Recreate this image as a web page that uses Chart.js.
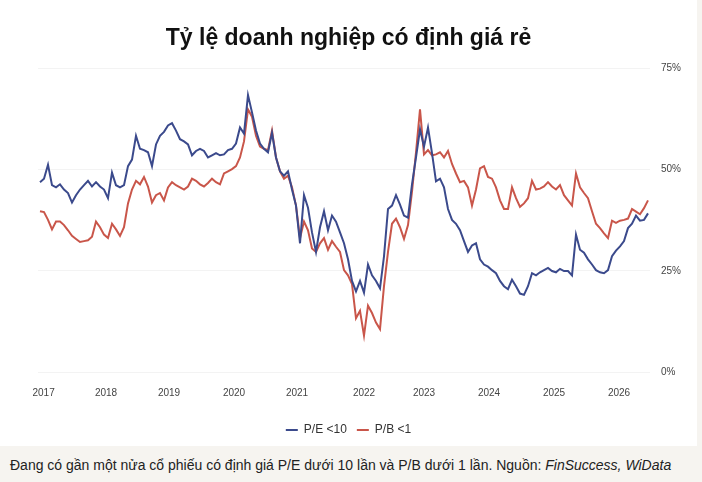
<!DOCTYPE html>
<html lang="vi">
<head>
<meta charset="utf-8">
<script src="https://cdn.jsdelivr.net/npm/chart.js@4.4.1/dist/chart.umd.min.js"></script>
<style>
  body { margin: 0; background: #f6f4f0; font-family: "Liberation Sans", Arial, sans-serif; }
  #panel { position: absolute; left: 0; top: 0; width: 697px; height: 446px; background: #fff; }
  #caption { position: absolute; left: 10px; top: 457px; font-size: 14px; color: #222; white-space: nowrap; }
</style>
</head>
<body>
<div id="panel"><canvas id="chart" width="697" height="446"></canvas></div>
<div id="caption">Đang có gần một nửa cổ phiếu có định giá P/E dưới 10 lần và P/B dưới 1 lần. Nguồn: <i>FinSuccess, WiData</i></div>
<script>
// weekly readings, % of companies
const peValues = [
  43.8, 44.6, 47.8, 43.1, 42.6, 43.3, 42.1, 41.3, 39.1, 40.8,
  42.1, 43.1, 44.1, 42.8, 43.8, 42.8, 42.1, 40.1, 46.0, 43.1,
  42.6, 43.1, 47.5, 49.0, 54.5, 51.5, 51.2, 50.7, 47.5, 52.5,
  54.5, 55.4, 56.9, 57.4, 55.7, 53.7, 53.2, 52.5, 50.0, 51.0,
  51.5, 51.0, 49.5, 50.0, 50.5, 50.0, 50.2, 51.2, 51.5, 52.7,
  56.4, 55.0, 63.9, 59.9, 55.7, 52.7, 51.5, 50.7, 55.2, 49.5,
  46.3, 45.3, 46.3, 42.1, 38.4, 29.7, 40.8, 37.9, 32.2, 27.7,
  33.4, 37.1, 32.7, 36.1, 34.7, 32.2, 29.7, 26.0, 21.0, 18.6,
  21.0, 18.3, 24.8, 22.3, 21.0, 19.3, 26.7, 37.6, 38.4, 40.8,
  38.6, 36.1, 35.6, 43.3, 49.5, 56.0, 52.0, 56.4, 50.5, 44.0,
  44.6, 42.6, 37.6, 35.1, 34.2, 32.7, 30.2, 27.7, 29.2, 29.7,
  26.0, 24.8, 24.3, 23.5, 22.8, 21.0, 19.8, 19.1, 21.3, 19.8,
  18.1, 17.8, 19.8, 22.8, 22.3, 23.0, 23.5, 24.0, 23.3, 23.0,
  23.8, 23.3, 23.3, 22.3, 31.7, 28.2, 27.5, 26.0, 24.8, 23.5,
  23.0, 22.8, 23.5, 26.7, 28.0, 29.0, 30.2, 33.2, 34.2, 36.1,
  34.9, 35.1, 36.6
];
const pbValues = [
  37.1, 36.9, 35.1, 32.9, 34.7, 34.7, 33.9, 32.7, 31.4, 30.7,
  30.0, 30.2, 30.4, 31.2, 34.7, 33.4, 31.7, 30.9, 34.2, 32.9,
  31.4, 33.4, 38.9, 42.1, 44.1, 43.3, 45.0, 42.8, 39.1, 40.8,
  41.3, 39.6, 42.6, 43.8, 43.1, 42.6, 42.1, 42.8, 44.6, 44.1,
  43.3, 42.8, 43.6, 44.6, 43.8, 43.3, 45.8, 46.3, 46.8, 47.5,
  49.5, 53.2, 60.6, 58.9, 54.5, 52.0, 51.5, 51.2, 55.7, 49.5,
  46.3, 44.6, 45.3, 42.6, 38.4, 30.9, 34.7, 32.7, 28.5, 27.7,
  29.7, 30.9, 28.2, 30.2, 28.9, 27.7, 23.5, 22.3, 20.3, 12.4,
  14.1, 8.4, 15.3, 13.6, 11.4, 9.9, 19.8, 27.7, 34.2, 35.4,
  33.4, 30.7, 33.9, 41.6, 50.7, 60.6, 50.2, 51.2, 50.0, 50.2,
  50.7, 49.5, 51.0, 48.0, 45.8, 43.8, 44.1, 42.6, 38.4, 42.1,
  47.0, 47.5, 45.0, 44.6, 42.6, 39.6, 37.6, 37.6, 42.6, 40.1,
  38.1, 38.9, 40.1, 44.1, 42.1, 42.3, 42.8, 43.8, 42.8, 42.1,
  43.1, 40.8, 39.6, 38.4, 45.8, 42.6, 41.3, 40.1, 37.1, 34.2,
  33.2, 32.0, 30.9, 34.9, 34.4, 34.9, 35.1, 35.4, 37.6, 37.0,
  36.4, 37.8, 39.6
];
// year labels and the week index where each one sits
const yearLabels = ["2017", "2018", "2019", "2020", "2021", "2022", "2023", "2024", "2025", "2026"];
const yearTickIndex = [0.9, 16.5, 32.25, 48.5, 64.25, 81, 96, 112.25, 128.5, 144.75];
const yTicks = [0, 25, 50, 75];

Chart.defaults.font.family = "'Liberation Sans', Arial, sans-serif";

const toPoints = (arr) => arr.map((v, i) => ({ x: i, y: v }));

new Chart(document.getElementById("chart"), {
  type: "line",
  data: {
    datasets: [
      {
        label: "P/E <10",
        data: toPoints(peValues),
        borderColor: "#3b4a8c",
        backgroundColor: "#3b4a8c",
        borderWidth: 2,
        pointRadius: 0,
      },
      {
        label: "P/B <1",
        data: toPoints(pbValues),
        borderColor: "#c9564a",
        backgroundColor: "#c9564a",
        borderWidth: 2,
        pointRadius: 0,
      },
    ],
  },
  options: {
    responsive: false,
    animation: false,
    layout: { padding: 0 },
    scales: {
      x: {
        type: "linear",
        min: -0.5,
        max: 152.5,
        grid: { display: false, drawTicks: false },
        border: { display: false },
        afterBuildTicks: (axis) => {
          axis.ticks = yearTickIndex.map((v) => ({ value: v }));
        },
        ticks: {
          autoSkip: false,
          maxRotation: 0,
          padding: 15,
          color: "#444",
          font: { size: 10 },
          callback: (v, i) => yearLabels[i],
        },
      },
      // empty left gutter so the legend stays centred on the page
      gutter: {
        position: "left",
        grid: { display: false, drawTicks: false },
        border: { display: false },
        ticks: { display: false },
        afterFit: (scale) => {
          scale.width = 38;
        },
      },
      y: {
        position: "right",
        min: 0,
        max: 75,
        afterBuildTicks: (axis) => {
          axis.ticks = yTicks.map((v) => ({ value: v }));
        },
        afterFit: (scale) => {
          scale.width = 47;
        },
        grid: { color: "#f3f3f3", drawTicks: false },
        border: { display: false },
        ticks: {
          padding: 11,
          color: "#444",
          font: { size: 10 },
          callback: (v) => v + "%",
        },
      },
    },
    plugins: {
      title: {
        display: true,
        text: "Tỷ lệ doanh nghiệp có định giá rẻ",
        color: "#111",
        font: { size: 23, weight: "bold" },
        padding: { top: 25, bottom: 16 },
      },
      legend: {
        position: "bottom",
        labels: {
          usePointStyle: true,
          pointStyle: "line",
          pointStyleWidth: 12,
          padding: 10,
          color: "#333",
          font: { size: 12 },
        },
      },
      tooltip: { enabled: false },
    },
  },
});
</script>
</body>
</html>
